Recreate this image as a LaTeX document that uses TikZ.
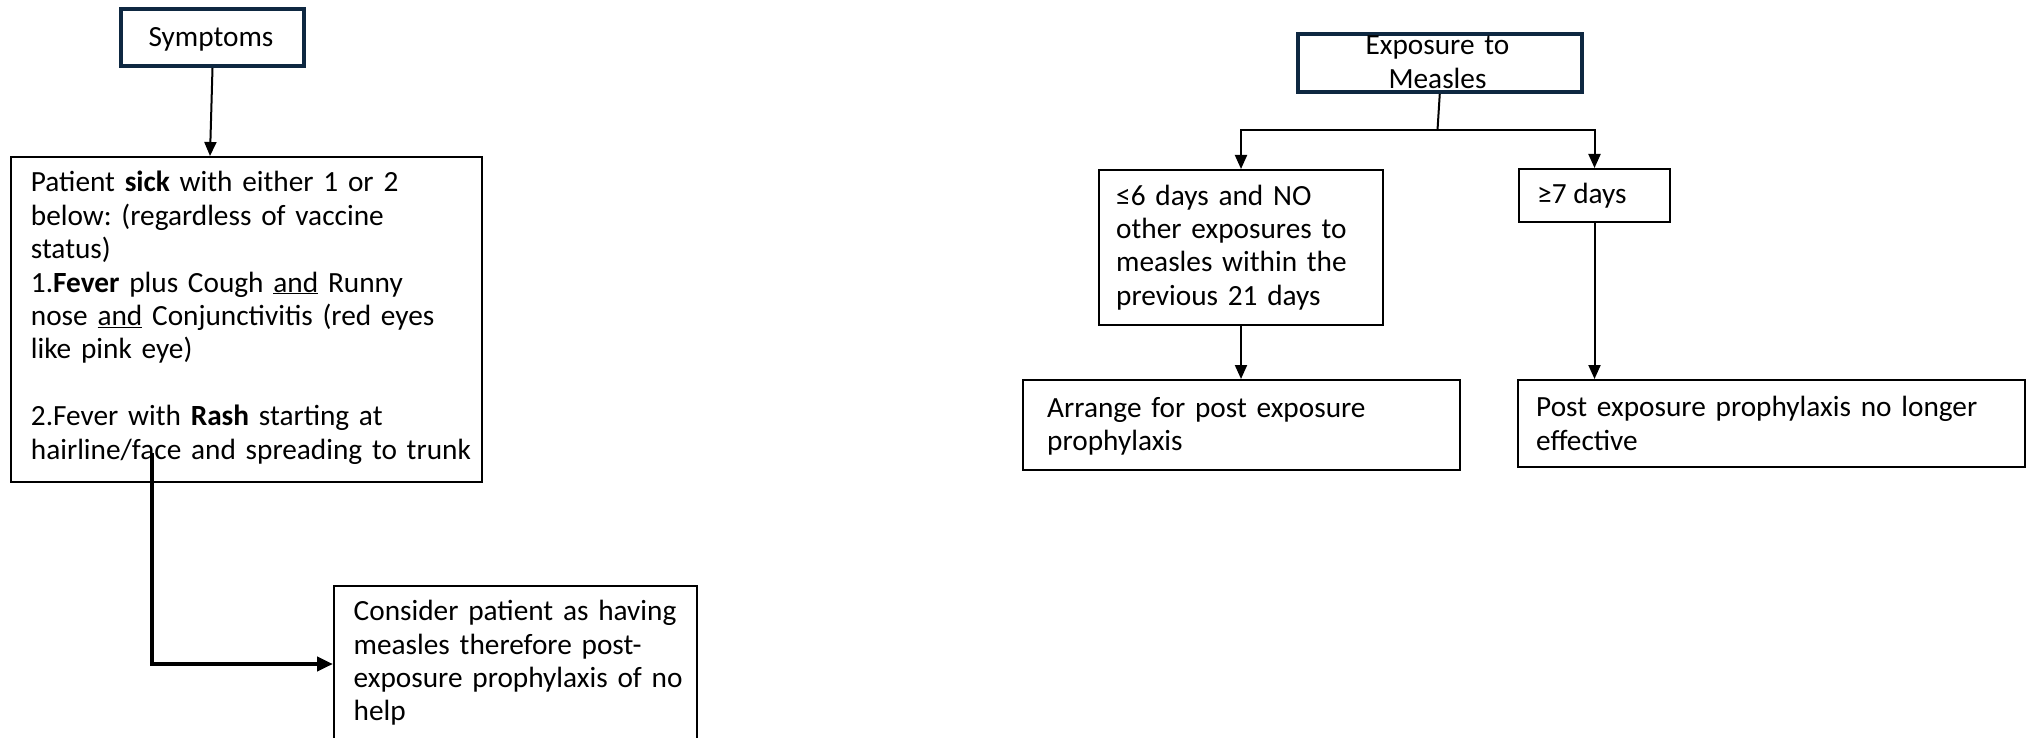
\documentclass[tikz,border=0pt]{standalone}
\usepackage{fontspec}
\setmainfont{Carlito}
\usetikzlibrary{arrows.meta}
\definecolor{navy}{HTML}{0E2841}
\frenchspacing
\begin{document}
\begin{tikzpicture}[x=1pt,y=-1pt,
  box/.style={draw=black, line width=2pt, inner sep=0pt, anchor=north west},
  keybox/.style={draw=navy, line width=4pt, inner sep=0pt, anchor=north west},
  txt/.style={inner sep=0pt, font=\frenchspacing\fontsize{29.3}{33.4}\selectfont, text=black},
  arr/.style={line width=2pt, -{Triangle[length=14pt,width=12pt]}},
  thickarr/.style={line width=4pt, -{Triangle[length=16pt,width=14pt]}}
]
\useasboundingbox (0,0) rectangle (2026,738);
\clip (0,0) rectangle (2026,738);

% ---------- left flow ----------
\node[keybox, minimum width=183pt, minimum height=57pt] (sym) at (119,7) {};
\node[txt, anchor=base] (symT) at (211,46.5) {Symptoms};

\node[box, minimum width=471pt, minimum height=325pt] (pat) at (10,156) {};
\node[txt, anchor=north west, text width=460pt, align=left] (patT) at (30.7,168.3) {\strut Patient \textbf{sick} with either 1 or 2\\
below: (regardless of vaccine\\
status)\\
1.\textbf{Fever} plus Cough \underline{and} Runny\\
nose \underline{and} Conjunctivitis (red eyes\\
like pink eye)\\[33.4pt]
2.Fever with \textbf{Rash} starting at\\
hairline/face and spreading to trunk};

\node[box, minimum width=362.5pt, minimum height=156pt] (cons) at (333,585) {};
\node[txt, anchor=north west, text width=340pt, align=left] (consT) at (353.5,597.1) {\strut Consider patient as having\\
measles therefore post-\\
exposure prophylaxis of no\\
help};

\coordinate (rash) at (152,453);

\draw[arr] (sym.south) -- ([xshift=200pt]pat.north west);
\draw[thickarr] (rash) |- (cons.west);

% ---------- right flow ----------
\node[keybox, minimum width=284.5pt, minimum height=58pt] (exp) at (1295.5,32) {};
\node[txt, anchor=north, text width=280pt, align=center] (expT) at (1437.5,31.2) {\strut Exposure to\\Measles};

\node[box, minimum width=284pt, minimum height=155pt] (le6) at (1098,169) {};
\node[txt, anchor=north west, text width=262pt, align=left] (le6T) at (1116,181.6) {\strut ≤6 days and NO\\
other exposures to\\
measles within the\\
previous 21 days};

\node[box, minimum width=151pt, minimum height=53pt] (ge7) at (1518,168) {};
\node[txt, anchor=base west] (ge7T) at (1537,204) {≥7 days};

\node[box, minimum width=437pt, minimum height=90pt] (arrg) at (1022,379) {};
\node[txt, anchor=north west, text width=400pt, align=left] (arrgT) at (1047,393.6) {\strut Arrange for post exposure\\
prophylaxis};

\node[box, minimum width=507pt, minimum height=87pt] (post) at (1517,379) {};
\node[txt, anchor=north west, text width=470pt, align=left] (postT) at (1536,393.3) {\strut Post exposure prophylaxis no longer\\
effective};

\coordinate (split) at (1437.5,130);
\draw[line width=2pt] (exp.south) -- (split);
\draw[arr] (split) -| (le6.north);
\draw[arr] (split) -| (ge7.north);
\draw[arr] (le6.south) -- (le6.south |- arrg.north);
\draw[arr] (ge7.south) -- (ge7.south |- post.north);
\end{tikzpicture}
\end{document}
